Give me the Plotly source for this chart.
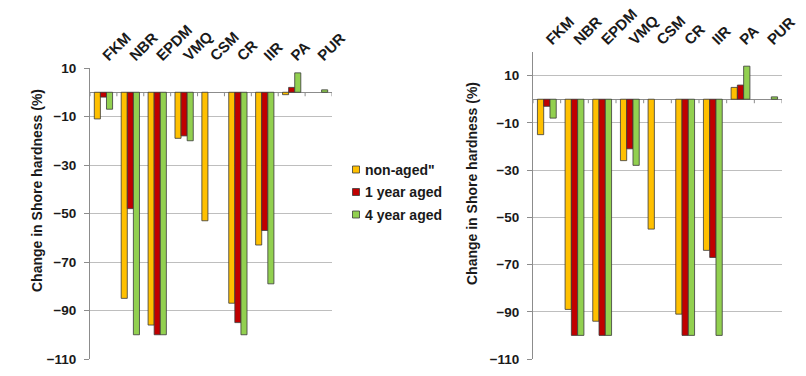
import plotly.graph_objects as go

categories = ["FKM", "NBR", "EPDM", "VMQ", "CSM", "CR", "IIR", "PA", "PUR"]
series_names = ['non-aged"', "1 year aged", "4 year aged"]

left_nonaged = [-11, -85, -96, -19, -53, -87, -63, -1, None]
left_1yr = [-2, -48, -100, -18, None, -95, -57, 2, None]
left_4yr = [-7, -100, -100, -20, None, -100, -79, 8, 1]

right_nonaged = [-15, -89, -94, -26, -55, -91, -64, 5, None]
right_1yr = [-3, -100, -100, -21, None, -100, -67, 6, None]
right_4yr = [-8, -100, -100, -28, None, -100, -100, 14, 1]

y_ticks = [-110, -90, -70, -50, -30, -10, 10]

colors = ["#FFC000", "#C00000", "#92D050"]
outline = "#3a3a3a"
grid = "#BEBEBE"
font_family = "Liberation Sans, Arial, sans-serif"
txt = "#1a1a1a"
W, H = 806, 376

x_idx = list(range(len(categories)))

fig = go.Figure()
left_series = [left_nonaged, left_1yr, left_4yr]
right_series = [right_nonaged, right_1yr, right_4yr]
for i, (name, vals) in enumerate(zip(series_names, left_series)):
    fig.add_trace(go.Bar(x=x_idx, y=vals, name=name, xaxis="x", yaxis="y",
                         marker=dict(color=colors[i], line=dict(color=outline, width=0.8)),
                         showlegend=False))
for i, (name, vals) in enumerate(zip(series_names, right_series)):
    fig.add_trace(go.Bar(x=x_idx, y=vals, name=name, xaxis="x2", yaxis="y2",
                         marker=dict(color=colors[i], line=dict(color=outline, width=0.8)),
                         showlegend=False))

shapes = []
for xr, yr in (("x", "y"), ("x2", "y2")):
    for k in range(len(categories) + 1):
        shapes.append(dict(type="line", xref=xr, yref=yr, x0=k - 0.5, x1=k - 0.5,
                           ysizemode="pixel", yanchor=0, y0=0, y1=-4,
                           line=dict(color="#8c8c8c", width=1)))

bold13 = dict(family=font_family, size=13.5, color=txt, weight="bold")
bold14 = dict(family=font_family, size=14, color=txt, weight="bold")
bold15 = dict(family=font_family, size=15, color=txt, weight="bold")

annotations = [
    dict(text="Change in Shore hardness (%)", textangle=-90, xref="paper", yref="paper",
         x=27 / W, y=1 - 191 / H, showarrow=False, font=bold14),
    dict(text="Change in Shore hardness (%)", textangle=-90, xref="paper", yref="paper",
         x=472 / W, y=1 - 184 / H, showarrow=False, font=bold14),
]

# manual legend (small square swatches like the original)
leg_x, leg_y0, leg_dy, sw = 352.5, 169.5, 22.5, 7
for i, name in enumerate(series_names):
    cy = leg_y0 + i * leg_dy
    shapes.append(dict(type="rect", xref="paper", yref="paper",
                       x0=leg_x / W, x1=(leg_x + sw) / W,
                       y0=1 - (cy + sw / 2) / H, y1=1 - (cy - sw / 2) / H,
                       fillcolor=colors[i], line=dict(color=outline, width=0.8)))
    annotations.append(dict(text=name, xref="paper", yref="paper", x=(leg_x + sw + 3) / W,
                            y=1 - cy / H, xanchor="left", yanchor="middle",
                            showarrow=False, font=bold14))

xcommon = dict(tickmode="array", tickvals=x_idx, ticktext=categories, side="top",
               tickangle=-45, showgrid=False, showline=False, zeroline=False,
               ticks="", range=[-0.5, len(categories) - 0.5], tickfont=bold15)
ycommon = dict(tickmode="array", tickvals=y_ticks, showgrid=True, gridcolor=grid,
               gridwidth=1, zeroline=True, zerolinecolor="#8c8c8c", zerolinewidth=1,
               showline=True, linecolor="#8c8c8c", linewidth=1, ticks="outside",
               ticklen=5, tickcolor="#8c8c8c", ticklabelstandoff=5, tickfont=bold13)

fig.update_layout(
    width=W, height=H,
    margin=dict(l=0, r=0, t=0, b=0, autoexpand=False),
    paper_bgcolor="white", plot_bgcolor="white",
    barmode="group", bargap=0.32, bargroupgap=0,
    shapes=shapes, annotations=annotations, showlegend=False,
    xaxis=dict(domain=[90 / W, 332 / W], anchor="y", **xcommon),
    yaxis=dict(domain=[1 - 359 / H, 1 - 68 / H], anchor="x", range=[-110, 10], **ycommon),
    xaxis2=dict(domain=[533 / W, 782 / W], anchor="y2", **xcommon),
    yaxis2=dict(domain=[1 - 359 / H, 1 - 52 / H], anchor="x2", range=[-110, 20], **ycommon),
)

fig.write_html("out.html", config={"displayModeBar": False},
               post_script="document.body.style.margin='0';")
